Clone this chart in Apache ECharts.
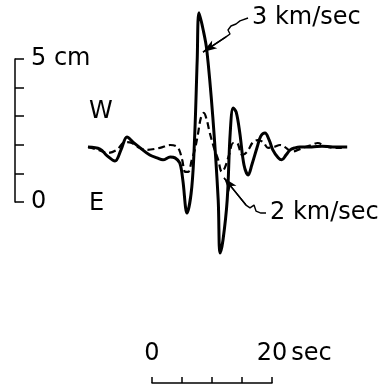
<!DOCTYPE html>
<html>
<head>
<meta charset="utf-8">
<script src="https://cdn.jsdelivr.net/npm/echarts@6/dist/echarts.min.js"></script>
<style>
  html, body { margin: 0; padding: 0; background: #fff; }
  #chart { width: 388px; height: 389px; }
</style>
</head>
<body>
<div id="chart"></div>
<script>
// Ground displacement traces: time in seconds, displacement in cm (W positive, E negative)
const fastTime = [0, 2.0, 3.2, 4.5, 5.5, 6.5, 7.5, 8.7, 10.3, 11.5, 12.5, 13.7, 14.5, 15.3, 15.8, 16.5,
  17.3, 17.8, 18.2, 18.5, 19.2, 19.8, 20.8, 21.7, 22.0, 22.5, 23.2, 23.7, 24.2, 24.7, 25.3, 26.0,
  26.7, 27.3, 28.2, 28.8, 29.5, 30.2, 30.8, 31.7, 32.3, 33.0, 33.7, 34.5, 35.3, 37.3, 39.0, 40.8, 43.2];
const fastDisp = [0, -0.07, -0.31, -0.49, -0.10, 0.35, 0.17, -0.03, -0.28, -0.38, -0.45, -0.35, -0.38, -0.56, -1.15, -2.31,
  -1.40, 0.49, 3.04, 4.69, 4.09, 3.39, 1.05, -1.85, -3.71, -3.25, -1.85, 0.49, 1.36, 1.22, 0.49, -0.63,
  -0.98, -0.63, 0, 0.38, 0.49, 0.24, -0.10, -0.38, -0.45, -0.28, -0.10, -0.03, 0, 0, 0.03, 0, 0];

const slowTime = [0, 1.7, 3.3, 4.8, 6.2, 7.3, 8.3, 9.8, 12.0, 13.7, 14.7, 15.2, 15.7, 16.2, 16.7, 17.3,
  17.8, 18.3, 18.8, 19.3, 19.8, 20.3, 21.0, 21.7, 22.3, 22.8, 23.5, 24.2, 24.8, 25.7, 26.5, 27.5,
  28.3, 29.2, 30.0, 31.0, 32.0, 33.0, 34.0, 35.0, 36.2, 37.3, 38.3, 39.5, 41.2, 42.3];
const slowDisp = [0, -0.10, -0.21, -0.10, 0.17, 0.14, 0, -0.10, -0.03, 0.07, 0.03, -0.10, -0.45, -0.87, -0.87, -0.45,
  -0.10, 0.42, 1.01, 1.19, 0.94, 0.49, -0.03, -0.45, -0.87, -0.73, -0.28, 0.14, 0.14, -0.28, -0.17, 0.17,
  0.24, 0.17, -0.03, 0, 0.07, -0.03, -0.17, -0.10, 0, 0.07, 0.14, 0.03, -0.03, -0.03];

const seriesNames = ['3 km/sec', '2 km/sec'];
const ampTickLabels = { 0: '0', 5: '5 cm' };
const timeTickLabels = { 0: '0', 20: '20' };
const directionLabels = ['W', 'E'];

const FONT = 'DejaVu Sans';
const INK = '#000';

const pairs = (xs, ys) => xs.map((x, i) => [x, ys[i]]);

// Leader lines from each trace out to its velocity label
const fastLeader = [[19.17, 3.32], [23.0, 3.85], [23.67, 3.95], [23.33, 4.09], [23.83, 4.23], [24.67, 4.30], [25.33, 4.41], [26.67, 4.51]];
const slowLeader = [[22.67, -1.08], [26.33, -2.03], [27.0, -2.13], [27.67, -2.03], [28.0, -2.24], [28.83, -2.31], [29.67, -2.31]];

const chart = echarts.init(document.getElementById('chart'), null, { renderer: 'canvas' });

const leaderSeries = (pts, name) => ({
  type: 'line',
  xAxisIndex: 0, yAxisIndex: 0,
  data: pts,
  symbol: 'none',
  silent: true,
  lineStyle: { color: INK, width: 1.4 },
  endLabel: {
    show: true,
    formatter: name,
    distance: 4,
    color: INK,
    fontFamily: FONT,
    fontSize: 24
  },
  markLine: {
    silent: true,
    symbol: ['none', 'arrow'],
    symbolSize: [7, 14],
    label: { show: false },
    lineStyle: { color: INK, width: 1.4, type: 'solid' },
    data: [[{ coord: pts[1] }, { coord: pts[0] }]]
  },
  z: 4
});

// Direction markers beside the traces
const dirTitle = (text, top) => ({
  text: text, left: 89, top: top, padding: 0,
  textStyle: { fontFamily: FONT, fontSize: 24, fontWeight: 'normal', color: INK }
});

chart.setOption({
  animation: false,
  backgroundColor: '#fff',
  title: [dirTitle(directionLabels[0], 100), dirTitle(directionLabels[1], 192)],
  grid: [
    { left: 88, top: 4, width: 258, height: 257.4 },
    { left: 15, top: 59, width: 10, height: 143 },
    { left: 152, top: 300, width: 120, height: 83 }
  ],
  xAxis: [
    { gridIndex: 0, type: 'value', min: 0, max: 43, show: false },
    { gridIndex: 1, type: 'value', min: 0, max: 1, show: false },
    {
      gridIndex: 2, type: 'value', min: 0, max: 20, interval: 5,
      axisLine: { show: true, lineStyle: { color: INK, width: 1.5 } },
      axisTick: { show: true, inside: true, length: 6, lineStyle: { color: INK, width: 1.5 } },
      splitLine: { show: false },
      axisLabel: {
        inside: true, margin: 17, color: INK, fontFamily: FONT, fontSize: 24,
        formatter: v => timeTickLabels[v] || ''
      },
      name: 'sec',
      nameLocation: 'end',
      nameGap: 16,
      nameTextStyle: { color: INK, fontFamily: FONT, fontSize: 24, verticalAlign: 'bottom', padding: [0, 0, 17, 0] }
    }
  ],
  yAxis: [
    { gridIndex: 0, type: 'value', min: -4, max: 5, show: false },
    {
      gridIndex: 1, type: 'value', min: 0, max: 5, interval: 1,
      axisLine: { show: true, lineStyle: { color: INK, width: 1.5 } },
      axisTick: { show: true, inside: true, length: 9, lineStyle: { color: INK, width: 1.5 } },
      splitLine: { show: false },
      axisLabel: {
        inside: true, margin: 16, color: INK, fontFamily: FONT, fontSize: 24,
        formatter: v => ampTickLabels[v] || ''
      }
    },
    { gridIndex: 2, type: 'value', min: 0, max: 1, show: false }
  ],
  series: [
    {
      name: seriesNames[1],
      type: 'line', xAxisIndex: 0, yAxisIndex: 0,
      data: pairs(slowTime, slowDisp),
      symbol: 'none', smooth: 0.35,
      lineStyle: { color: INK, width: 2.2, type: [7, 4] },
      z: 2
    },
    {
      name: seriesNames[0],
      type: 'line', xAxisIndex: 0, yAxisIndex: 0,
      data: pairs(fastTime, fastDisp),
      symbol: 'none', smooth: 0.35,
      lineStyle: { color: INK, width: 3 },
      z: 3
    },
    leaderSeries(fastLeader, seriesNames[0]),
    leaderSeries(slowLeader, seriesNames[1])
  ]
});
</script>
</body>
</html>
